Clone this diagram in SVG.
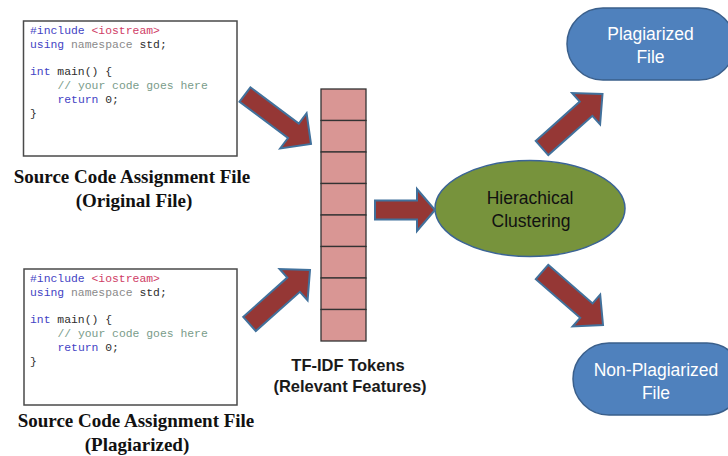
<svg xmlns="http://www.w3.org/2000/svg" width="728" height="456" viewBox="0 0 728 456">
<style>
.codebox{fill:#fff;stroke:#4a4a4a;stroke-width:1.5}
.code{font-family:"Liberation Mono","DejaVu Sans Mono",monospace;font-size:11.4px;fill:#2e2e2e}
.kw{fill:#4343c4}
.inc{fill:#cf3d66}
.ns{fill:#8a8a8a}
.cm{fill:#7a9c8a}
.lbl{font-family:"Liberation Serif","Times New Roman",serif;font-size:19px;font-weight:bold;fill:#111;text-anchor:middle}
.tok{font-family:"Liberation Sans",Arial,sans-serif;font-size:16.5px;font-weight:bold;fill:#1a1a1a;text-anchor:middle}
.cell{fill:#d99694;stroke:#333;stroke-width:1.3}
.arr{fill:#953735;stroke:#41719c;stroke-width:2;stroke-linejoin:miter}
.nodeTxt{font-family:"Liberation Sans",Arial,sans-serif;font-size:17.5px;text-anchor:middle}
.pill{fill:#4f81bd;stroke:#3a5f8b;stroke-width:1.5}
</style>

<g id="source-original">
  <rect class="codebox" x="23.5" y="21" width="213.5" height="135"/>
  <text class="code" x="30" y="34"><tspan class="kw">#include</tspan> <tspan class="inc">&lt;iostream&gt;</tspan></text>
  <text class="code" x="30" y="47.8"><tspan class="kw">using</tspan> <tspan class="ns">namespace</tspan> std;</text>
  <text class="code" x="30" y="75.4"><tspan class="kw">int</tspan> main() {</text>
  <text class="code cm" x="57.4" y="89.2">// your code goes here</text>
  <text class="code" x="57.4" y="103"><tspan class="kw">return</tspan> 0;</text>
  <text class="code" x="30" y="116.8">}</text>
  <text class="lbl" x="132" y="183">Source Code Assignment File</text>
  <text class="lbl" x="134" y="207">(Original File)</text>
</g>

<g id="source-plagiarized">
  <rect class="codebox" x="24" y="269" width="213" height="136"/>
  <text class="code" x="30" y="282"><tspan class="kw">#include</tspan> <tspan class="inc">&lt;iostream&gt;</tspan></text>
  <text class="code" x="30" y="295.8"><tspan class="kw">using</tspan> <tspan class="ns">namespace</tspan> std;</text>
  <text class="code" x="30" y="323.4"><tspan class="kw">int</tspan> main() {</text>
  <text class="code cm" x="57.4" y="337.2">// your code goes here</text>
  <text class="code" x="57.4" y="351"><tspan class="kw">return</tspan> 0;</text>
  <text class="code" x="30" y="364.8">}</text>
  <text class="lbl" x="136" y="427">Source Code Assignment File</text>
  <text class="lbl" x="137" y="451">(Plagiarized)</text>
</g>

<g id="tfidf-tokens">
  <rect class="cell" x="321" y="89" width="45" height="31.5"/>
  <rect class="cell" x="321" y="120.5" width="45" height="31.5"/>
  <rect class="cell" x="321" y="152" width="45" height="31.5"/>
  <rect class="cell" x="321" y="183.5" width="45" height="31.5"/>
  <rect class="cell" x="321" y="215" width="45" height="31.5"/>
  <rect class="cell" x="321" y="246.5" width="45" height="31.5"/>
  <rect class="cell" x="321" y="278" width="45" height="31.5"/>
  <rect class="cell" x="321" y="309.5" width="45" height="31.5"/>
  <text class="tok" x="348" y="371">TF-IDF Tokens</text>
  <text class="tok" x="350" y="392">(Relevant Features)</text>
</g>

<g id="clustering">
  <ellipse cx="530" cy="208.5" rx="95" ry="48" fill="#77933c" stroke="#3b6496" stroke-width="1.5"/>
  <text class="nodeTxt" x="530" y="203.5" fill="#111">Hierachical</text>
  <text class="nodeTxt" x="531" y="226.5" fill="#111">Clustering</text>
</g>

<g id="plagiarized-file">
  <rect class="pill" x="567" y="8" width="168" height="72" rx="36" ry="36"/>
  <text class="nodeTxt" x="650.5" y="40" fill="#fff">Plagiarized</text>
  <text class="nodeTxt" x="650.5" y="63" fill="#fff">File</text>
</g>

<g id="non-plagiarized-file">
  <rect class="pill" x="573" y="343" width="170" height="72" rx="36" ry="36"/>
  <text class="nodeTxt" x="656" y="376" fill="#fff">Non-Plagiarized</text>
  <text class="nodeTxt" x="656" y="398.5" fill="#fff">File</text>
</g>

<g id="connectors">
  <polygon class="arr" points="239.6,101.7 250.4,87.3 298.8,123.6 306.6,113.2 311,144 280.2,148.4 288,138"/>
  <polygon class="arr" points="243.2,316.9 287.3,277.6 279.6,269 310,270 307.6,300.4 299.9,291.8 255.8,331.1"/>
  <polygon class="arr" points="375,200.5 417,200.5 417,189 435,210 417,231 417,219.5 375,219.5"/>
  <polygon class="arr" transform="translate(292.5,-176)" points="243.2,316.9 287.3,277.6 279.6,269 310,270 307.6,300.4 299.9,291.8 255.8,331.1"/>
  <polygon class="arr" points="548.2,264.8 592.6,303.4 600.2,294.7 603,325 572.6,326.5 580.2,317.8 535.8,279.2"/>
</g>
</svg>
